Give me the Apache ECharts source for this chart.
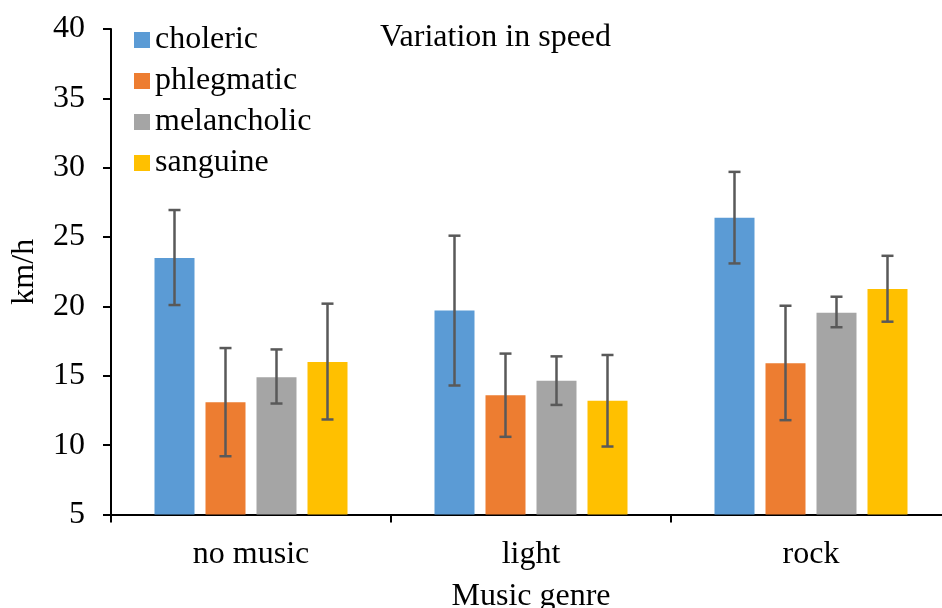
<!DOCTYPE html>
<html>
<head>
<meta charset="utf-8">
<script src="https://cdn.jsdelivr.net/npm/echarts@6/dist/echarts.min.js"></script>
<style>html,body{margin:0;padding:0;background:#fff}#c{width:942px;height:608px}</style>
</head>
<body>
<div id="c"></div>
<script>
const categories = ['no music', 'light', 'rock'];
const seriesNames = ['choleric', 'phlegmatic', 'melancholic', 'sanguine'];
const choleric = [23.5, 19.7, 26.4];
const phlegmatic = [13.1, 13.6, 15.9];
const melancholic = [14.9, 14.65, 19.55];
const sanguine = [16.0, 13.2, 21.25];
const cholericLow = [20.1, 14.3, 23.1];
const cholericHigh = [26.95, 25.1, 29.7];
const phlegmaticLow = [9.2, 10.6, 11.8];
const phlegmaticHigh = [17.0, 16.6, 20.05];
const melancholicLow = [13.0, 12.9, 18.5];
const melancholicHigh = [16.9, 16.4, 20.7];
const sanguineLow = [11.85, 9.9, 18.9];
const sanguineHigh = [20.2, 16.5, 23.65];
const yTicks = [5, 10, 15, 20, 25, 30, 35, 40];

const values = [choleric, phlegmatic, melancholic, sanguine];
const lows = [cholericLow, phlegmaticLow, melancholicLow, sanguineLow];
const highs = [cholericHigh, phlegmaticHigh, melancholicHigh, sanguineHigh];
const colors = ['#5B9BD5', '#ED7D31', '#A5A5A5', '#FFC000'];
const FONT = "'Liberation Serif', 'Times New Roman', serif";
const FS = 32;
const BAR_W = 40;
const GAP = 0.275;

const chart = echarts.init(document.getElementById('c'));
const series = [];
seriesNames.forEach((n, i) => {
  series.push({
    name: n, type: 'bar', data: values[i], barWidth: BAR_W, barGap: (GAP * 100) + '%',
    itemStyle: { color: colors[i] }
  });
});
seriesNames.forEach((n, i) => {
  series.push({
    name: n + '_err', type: 'custom',
    data: categories.map((c, k) => [k, lows[i][k], highs[i][k]]),
    encode: { x: 0, y: [1, 2] },
    z: 10,
    renderItem: function (params, api) {
      const k = api.value(0);
      const lo = api.coord([k, api.value(1)]);
      const hi = api.coord([k, api.value(2)]);
      const off = (i - (seriesNames.length - 1) / 2) * BAR_W * (1 + GAP);
      const x = lo[0] + off;
      const cap = 6;
      const st = { stroke: '#595959', lineWidth: 2.5 };
      return {
        type: 'group',
        children: [
          { type: 'line', shape: { x1: x, y1: lo[1], x2: x, y2: hi[1] }, style: st },
          { type: 'line', shape: { x1: x - cap, y1: lo[1], x2: x + cap, y2: lo[1] }, style: st },
          { type: 'line', shape: { x1: x - cap, y1: hi[1], x2: x + cap, y2: hi[1] }, style: st }
        ]
      };
    }
  });
});

chart.setOption({
  animation: false,
  textStyle: { fontFamily: FONT },
  title: {
    text: 'Variation in speed', left: 375, top: 17,
    textStyle: { fontFamily: FONT, fontSize: FS, fontWeight: 'normal', color: '#000' }
  },
  legend: {
    data: seriesNames, orient: 'vertical', left: 129, top: 19,
    itemWidth: 16, itemHeight: 16, itemGap: 9,
    icon: 'rect',
    textStyle: { fontFamily: FONT, fontSize: FS, color: '#000' }
  },
  grid: { left: 111, top: 29, width: 840, height: 485.5, containLabel: false, outerBoundsMode: 'none' },
  xAxis: {
    type: 'category', data: categories,
    axisLine: { lineStyle: { color: '#000', width: 2 } },
    axisTick: { show: true, length: 8, lineStyle: { color: '#000', width: 2 } },
    axisLabel: { fontFamily: FONT, fontSize: FS, color: '#000', margin: 24 },
    name: 'Music genre', nameLocation: 'middle', nameGap: 66,
    nameTextStyle: { fontFamily: FONT, fontSize: FS, color: '#000' }
  },
  yAxis: {
    type: 'value', min: yTicks[0], max: yTicks[yTicks.length - 1], interval: 5,
    splitLine: { show: false },
    axisLine: { show: true, lineStyle: { color: '#000', width: 2 } },
    axisTick: { show: true, length: 8, lineStyle: { color: '#000', width: 2 } },
    axisLabel: { fontFamily: FONT, fontSize: FS, color: '#000', margin: 26 },
    name: 'km/h', nameLocation: 'middle', nameGap: 70, nameRotate: 90,
    nameTextStyle: { fontFamily: FONT, fontSize: FS, color: '#000' }
  },
  series: series
});
</script>
</body>
</html>
